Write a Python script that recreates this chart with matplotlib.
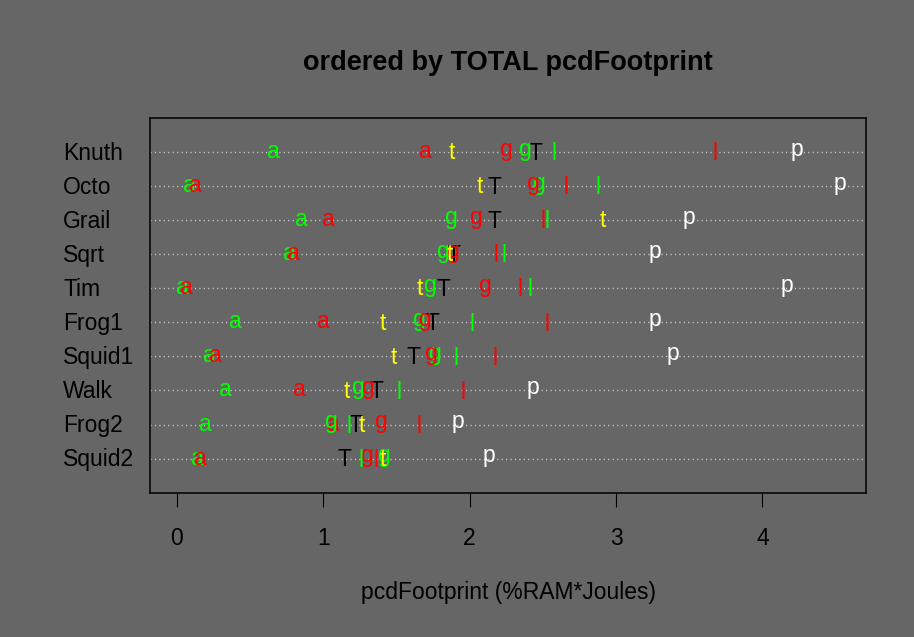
import matplotlib
matplotlib.use("Agg")
import matplotlib.pyplot as plt
import matplotlib.transforms as mtransforms
from matplotlib.textpath import TextPath
from matplotlib.font_manager import FontProperties

plt.rcParams['font.family'] = ['Liberation Sans', 'DejaVu Sans']

# ---- data (rows listed top to bottom) ----
categories = ["Knuth", "Octo", "Grail", "Sqrt", "Tim", "Frog1", "Squid1", "Walk", "Frog2", "Squid2"]
a_green = [0.663, 0.089, 0.857, 0.772, 0.043, 0.403, 0.226, 0.333, 0.196, 0.146]
a_red   = [1.700, 0.128, 1.041, 0.800, 0.070, 1.007, 0.264, 0.840, 1.075, 0.162]
g_green = [2.380, 2.474, 1.873, 1.820, 1.730, 1.656, 1.763, 1.239, 1.057, 1.417]
g_red   = [2.250, 2.435, 2.048, 1.889, 2.105, 1.697, 1.736, 1.308, 1.399, 1.297]
l_green = [2.577, 2.878, 2.529, 2.237, 2.415, 2.016, 1.907, 1.520, 1.176, 1.256]
l_red   = [3.680, 2.657, 2.504, 2.180, 2.344, 2.529, 2.174, 1.957, 1.656, 1.360]
t_yellow = [1.880, 2.070, 2.910, 1.866, 1.660, 1.410, 1.485, 1.160, 1.265, 1.410]
T_total = [2.447, 2.170, 2.169, 1.889, 1.825, 1.748, 1.615, 1.365, 1.224, 1.144]
p_white = [4.240, 4.530, 3.500, 3.267, 4.170, 3.270, 3.388, 2.436, 1.923, 2.135]
x_ticks = [0, 1, 2, 3, 4]
title = "ordered by TOTAL pcdFootprint"
xlabel = "pcdFootprint (%RAM*Joules)"

# draw order, symbol, colour
series = [
    (a_green, "a", "#00FF00"),
    (a_red, "a", "#FF0000"),
    (T_total, "T", "#000000"),
    (g_green, "g", "#00FF00"),
    (g_red, "g", "#FF0000"),
    (l_green, "l", "#00FF00"),
    (l_red, "l", "#FF0000"),
    (t_yellow, "t", "#FFFF00"),
    (p_white, "p", "#FFFFFF"),
]

BG = "#666666"
W, H = 914, 637
fig = plt.figure(figsize=(W / 100, H / 100), dpi=100, facecolor=BG)
left, right, top, bottom = 150.3, 866.3, 117.7, 492.7
ax = fig.add_axes([left / W, 1 - bottom / H, (right - left) / W, (bottom - top) / H])
ax.set_facecolor(BG)

n = len(categories)
ypos = [n - i for i in range(n)]  # top row = n
ax.set_xlim(-0.181, 4.71)
ax.set_ylim(0, n + 1)

fs = 16.5
fp = FontProperties(family='Liberation Sans', size=fs)

def ink_offset(s):
    ext = TextPath((0, 0), s, size=fs, prop=fp).get_extents()
    return (ext.x0 + ext.x1) / 2, (ext.y0 + ext.y1) / 2

# dotted guide lines
for y in ypos:
    ax.axhline(y, color="#D3D3D3", lw=1.0, ls=(0, (0.8, 2.4)), zorder=1)

# character markers
for vals, ch, col in series:
    cx, cy = ink_offset(ch)
    tr = mtransforms.offset_copy(ax.transData, fig=fig, x=-cx, y=-cy, units='points')
    for v, y in zip(vals, ypos):
        ax.text(v, y, ch, color=col, fontsize=fs, ha='left', va='baseline',
                transform=tr, zorder=3)

# row labels (left aligned)
capK = TextPath((0, 0), "K", size=fs, prop=fp).get_extents()
cap_mid = (capK.y0 + capK.y1) / 2
blend = mtransforms.blended_transform_factory(fig.transFigure, ax.transData)
lab_tr = mtransforms.offset_copy(blend, fig=fig, x=0, y=-cap_mid, units='points')
for lab, y in zip(categories, ypos):
    ax.text(63 / W, y, lab, fontsize=fs, color="black", ha='left', va='baseline',
            transform=lab_tr, clip_on=False)

# axes styling
for sp in ax.spines.values():
    sp.set_color("black")
    sp.set_linewidth(1.1)
ax.set_yticks([])
ax.set_xticks(x_ticks)
ax.set_xticklabels([str(t) for t in x_ticks])
ax.tick_params(axis='x', direction='out', length=10, width=0.8, colors='black',
               labelsize=fs, pad=15)

ax.set_xlabel(xlabel, fontsize=fs, color='black')
ax.xaxis.set_label_coords(0.5, (bottom - 593) / (bottom - top))
ax.xaxis.label.set_va('center')

ax.set_title(title, fontsize=19.5, fontweight='bold', color='black',
             y=(bottom - 70.0) / (bottom - top), va='baseline', pad=0)

fig.savefig("out.png", dpi=100, facecolor=BG)
